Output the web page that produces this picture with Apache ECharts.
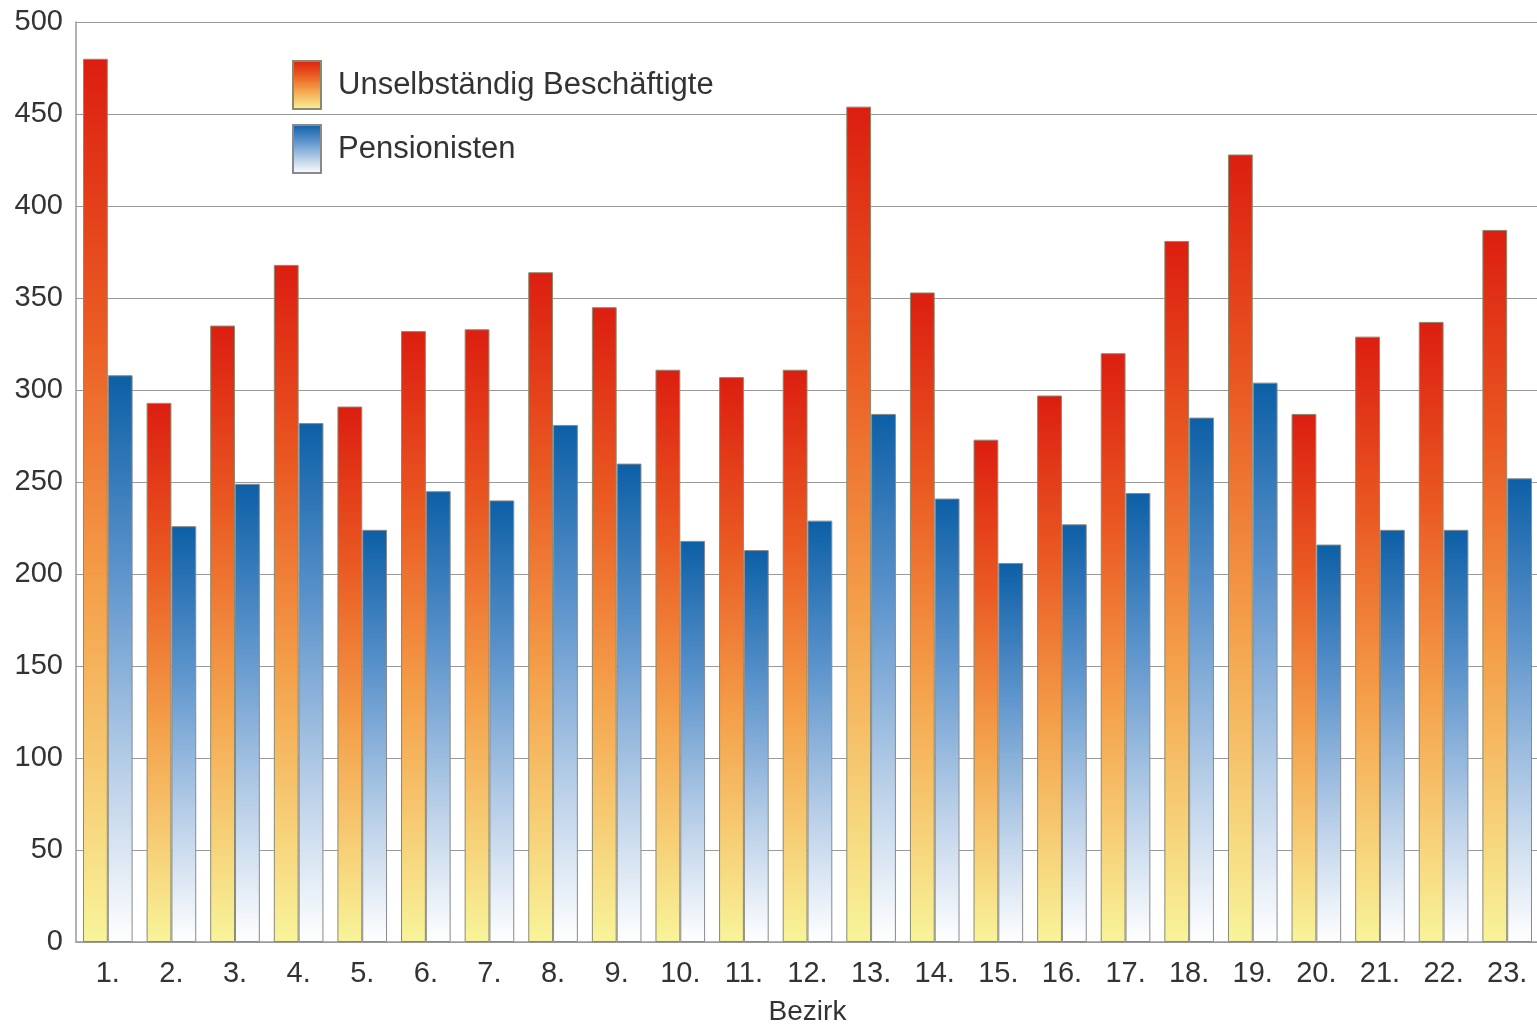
<!DOCTYPE html>
<html><head><meta charset="utf-8">
<style>html,body{margin:0;padding:0;background:#fff;overflow:hidden}#c{width:1537px;height:1025px}</style>
<script src="https://cdn.jsdelivr.net/npm/echarts@6/dist/echarts.min.js"></script>
</head><body><div id="c"></div>
<script>
const categories = ['1.','2.','3.','4.','5.','6.','7.','8.','9.','10.','11.','12.','13.','14.','15.','16.','17.','18.','19.','20.','21.','22.','23.'];
const beschaeftigte = [480,293,335,368,291,332,333,364,345,311,307,311,454,353,273,297,320,381,428,287,329,337,387];
const pensionisten = [308,226,249,282,224,245,240,281,260,218,213,229,287,241,206,227,244,285,304,216,224,224,252];
const yTicks = {min:0, max:500, interval:50};

const chart = echarts.init(document.getElementById('c'), null, {renderer:'canvas'});
const redGrad = new echarts.graphic.LinearGradient(0,0,0,1,[
  {offset:0,color:'#dc1e10'},{offset:0.3,color:'#ea5a22'},{offset:0.6,color:'#f4a04a'},{offset:1,color:'#f8f49a'}]);
const blueGrad = new echarts.graphic.LinearGradient(0,0,0,1,[
  {offset:0,color:'#0c5fa6'},{offset:0.35,color:'#5d94cc'},{offset:0.7,color:'#b9cfe8'},{offset:1,color:'#ffffff'}]);
const font = 'Liberation Sans, Arial, sans-serif';
chart.setOption({
  animation:false,
  textStyle:{fontFamily:font},
  grid:{left:76,top:22,right:-2,bottom:83,containLabel:false,outerBoundsMode:'none'},
  legend:{left:292,top:60,padding:0,orient:'vertical',itemWidth:28,itemHeight:48,itemGap:14,icon:'rect',
    textStyle:{fontSize:31,color:'#333',fontFamily:font,padding:[0,0,0,12]},
    data:['Unselbständig Beschäftigte','Pensionisten']},
  xAxis:{type:'category',data:categories,
    name:'Bezirk',nameLocation:'middle',nameGap:56,nameTextStyle:{fontSize:28,color:'#333'},
    axisLine:{lineStyle:{color:'#999',width:1.5}},
    axisTick:{inside:true,length:22,lineStyle:{color:'#999',width:1.5},interval:0},
    axisLabel:{fontSize:29,color:'#333',margin:17,interval:0}},
  yAxis:{type:'value',min:yTicks.min,max:yTicks.max,interval:yTicks.interval,
    axisLine:{show:true,lineStyle:{color:'#999',width:1.5}},
    axisTick:{show:false},
    splitLine:{lineStyle:{color:'#999',width:1.2}},
    axisLabel:{fontSize:29,color:'#333',margin:13}},
  series:[
    {name:'Unselbständig Beschäftigte',type:'bar',data:beschaeftigte,barGap:'0%',barCategoryGap:'22%',
      itemStyle:{color:redGrad,borderColor:'#8a8a70',borderWidth:1}},
    {name:'Pensionisten',type:'bar',data:pensionisten,
      itemStyle:{color:blueGrad,borderColor:'#8a8a8a',borderWidth:1}}
  ]
});
</script></body></html>
